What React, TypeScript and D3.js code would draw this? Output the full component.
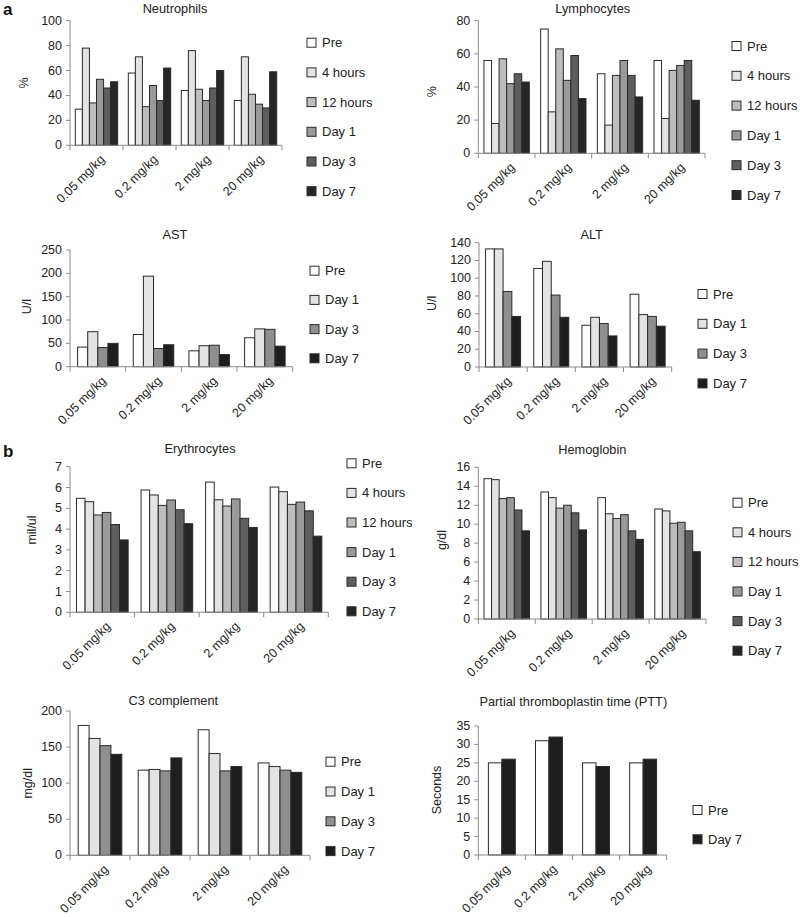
import React from 'react';
import * as d3 from 'd3';

const doses = ['0.05 mg/kg', '0.2 mg/kg', '2 mg/kg', '20 mg/kg'];
const seriesSix = ['Pre', '4 hours', '12 hours', 'Day 1', 'Day 3', 'Day 7'];
const seriesFour = ['Pre', 'Day 1', 'Day 3', 'Day 7'];
const seriesTwo = ['Pre', 'Day 7'];

const colorsSix = ['#ffffff', '#e3e3e3', '#bdbdbd', '#9a9a9a', '#5e5e5e', '#262626'];
const colorsFour = ['#ffffff', '#e3e3e3', '#8f8f8f', '#1e1e1e'];
const colorsTwo = ['#ffffff', '#1e1e1e'];

// values per dose group (rows), per series (columns)
const neutrophils = [
  [29, 78, 34, 53, 46, 51],
  [58, 71, 31, 48, 36, 62],
  [44, 76, 45, 36, 46, 60],
  [36, 71, 41, 33, 30, 59],
];
const lymphocytes = [
  [56, 18, 57, 42, 48, 43],
  [75, 25, 63, 44, 59, 33],
  [48, 17, 47, 56, 47, 34],
  [56, 21, 50, 53, 56, 32],
];
const ast = [
  [42, 75, 41, 50],
  [69, 194, 39, 47],
  [34, 45, 46, 26],
  [62, 81, 80, 44],
];
const alt = [
  [133, 133, 85, 57],
  [111, 119, 81, 56],
  [47, 56, 49, 35],
  [82, 59, 57, 46],
];
const erythrocytes = [
  [5.48, 5.32, 4.68, 4.8, 4.22, 3.48],
  [5.88, 5.64, 5.14, 5.4, 4.93, 4.26],
  [6.26, 5.41, 5.11, 5.45, 4.52, 4.08],
  [6.02, 5.8, 5.19, 5.3, 4.88, 3.66],
];
const hemoglobin = [
  [14.8, 14.7, 12.7, 12.8, 11.5, 9.3],
  [13.4, 12.8, 11.7, 12.0, 11.2, 9.4],
  [12.8, 11.1, 10.6, 11.0, 9.3, 8.4],
  [11.6, 11.4, 10.1, 10.2, 9.3, 7.1],
];
const c3 = [
  [180, 162, 152, 140],
  [118, 119, 117, 135],
  [174, 141, 117, 123],
  [128, 123, 118, 115],
];
const ptt = [
  [25, 26],
  [31, 32],
  [25, 24],
  [25, 26],
];

const FONT = '"Liberation Sans", Arial, Helvetica, sans-serif';

type PanelProps = {
  title: string;
  yLabel: string;
  series: string[];
  colors: string[];
  values: number[][];
  yMax: number;
  yStep: number;
  x0: number;
  x1: number;
  yTop: number;
  yBot: number;
  titleX: number;
  titleY: number;
  ylabX: number;
  ylabY: number;
  legX: number;
  legY0: number;
  legStep: number;
};

function Panel(p: PanelProps) {
  const y = d3.scaleLinear().domain([0, p.yMax]).range([p.yBot, p.yTop]);
  const gx = d3.scaleBand<string>().domain(doses).range([p.x0, p.x1]).paddingInner(0).paddingOuter(0);
  const bx = d3
    .scaleBand<string>()
    .domain(p.series)
    .range([0, gx.bandwidth()])
    .paddingInner(0)
    .paddingOuter(0.75);
  const ticks = d3.range(0, p.yMax + p.yStep / 2, p.yStep);
  const boundaries = doses.map((d) => gx(d) as number).concat([p.x1]);
  const axisColor = '#8c8c8c';
  return (
    <g>
      <text x={p.titleX} y={p.titleY} textAnchor="middle" fontSize={12.8} fill="#222">
        {p.title}
      </text>
      <text
        transform={`translate(${p.ylabX},${p.ylabY}) rotate(-90)`}
        textAnchor="middle"
        dominantBaseline="central"
        fontSize={12.5}
        fill="#222"
      >
        {p.yLabel}
      </text>
      {/* bars */}
      {p.values.map((row, gi) =>
        row.map((v, si) => {
          const x = (gx(doses[gi]) as number) + (bx(p.series[si]) as number);
          return (
            <rect
              key={`${gi}-${si}`}
              x={x}
              y={y(v)}
              width={bx.bandwidth()}
              height={p.yBot - y(v)}
              fill={p.colors[si]}
              stroke="#2a2a2a"
              strokeWidth={1}
            />
          );
        })
      )}
      {/* y axis */}
      <line x1={p.x0} x2={p.x0} y1={p.yTop} y2={p.yBot} stroke={axisColor} strokeWidth={1} />
      {ticks.map((t) => (
        <g key={t}>
          <line x1={p.x0 - 4} x2={p.x0} y1={y(t)} y2={y(t)} stroke={axisColor} />
          <text x={p.x0 - 8} y={y(t)} textAnchor="end" dominantBaseline="central" fontSize={12.5} fill="#222">
            {t}
          </text>
        </g>
      ))}
      {/* x axis */}
      <line x1={p.x0} x2={p.x1} y1={p.yBot} y2={p.yBot} stroke={axisColor} strokeWidth={1} />
      {boundaries.map((b, i) => (
        <line key={i} x1={b} x2={b} y1={p.yBot} y2={p.yBot + 5} stroke={axisColor} />
      ))}
      {doses.map((d) => {
        const cx = (gx(d) as number) + gx.bandwidth() / 2;
        return (
          <text
            key={d}
            transform={`translate(${cx + 6},${p.yBot + 12}) rotate(-45)`}
            textAnchor="end"
            dominantBaseline="central"
            fontSize={12.5}
            fill="#222"
          >
            {d}
          </text>
        );
      })}
      {/* legend */}
      {p.series.map((s, i) => {
        const ly = p.legY0 + i * p.legStep;
        return (
          <g key={s}>
            <rect x={p.legX} y={ly - 4.5} width={9} height={9} fill={p.colors[i]} stroke="#2a2a2a" strokeWidth={1} />
            <text x={p.legX + 15} y={ly} dominantBaseline="central" fontSize={13} fill="#222">
              {s}
            </text>
          </g>
        );
      })}
    </g>
  );
}

const panels: PanelProps[] = [
  {
    title: 'Neutrophils', yLabel: '%', series: seriesSix, colors: colorsSix, values: neutrophils,
    yMax: 100, yStep: 20, x0: 70, x1: 282, yTop: 20.7, yBot: 145.3,
    titleX: 175, titleY: 13, ylabX: 24, ylabY: 83, legX: 307, legY0: 42.7, legStep: 29.7,
  },
  {
    title: 'Lymphocytes', yLabel: '%', series: seriesSix, colors: colorsSix, values: lymphocytes,
    yMax: 80, yStep: 20, x0: 478.3, x1: 705, yTop: 20.7, yBot: 153.3,
    titleX: 592.7, titleY: 13, ylabX: 431.7, ylabY: 91.7, legX: 732, legY0: 46, legStep: 29.8,
  },
  {
    title: 'AST', yLabel: 'U/l', series: seriesFour, colors: colorsFour, values: ast,
    yMax: 250, yStep: 50, x0: 70, x1: 292.7, yTop: 250, yBot: 366.7,
    titleX: 175, titleY: 239, ylabX: 26.7, ylabY: 306.7, legX: 310, legY0: 270.7, legStep: 29.2,
  },
  {
    title: 'ALT', yLabel: 'U/l', series: seriesFour, colors: colorsFour, values: alt,
    yMax: 140, yStep: 20, x0: 479, x1: 671.7, yTop: 242.7, yBot: 367,
    titleX: 591.7, titleY: 239, ylabX: 431.7, ylabY: 303.3, legX: 698, legY0: 294, legStep: 29.8,
  },
  {
    title: 'Erythrocytes', yLabel: 'mil/ul', series: seriesSix, colors: colorsSix, values: erythrocytes,
    yMax: 7, yStep: 1, x0: 70, x1: 328.3, yTop: 466.7, yBot: 612.3,
    titleX: 200, titleY: 453.3, ylabX: 31.7, ylabY: 530, legX: 347, legY0: 463.3, legStep: 29.6,
  },
  {
    title: 'Hemoglobin', yLabel: 'g/dl', series: seriesSix, colors: colorsSix, values: hemoglobin,
    yMax: 16, yStep: 2, x0: 478.3, x1: 706, yTop: 467.3, yBot: 619,
    titleX: 592.3, titleY: 454, ylabX: 441.7, ylabY: 540, legX: 733, legY0: 502.7, legStep: 29.6,
  },
  {
    title: 'C3 complement', yLabel: 'mg/dl', series: seriesFour, colors: colorsFour, values: c3,
    yMax: 200, yStep: 50, x0: 70, x1: 310, yTop: 711, yBot: 855.3,
    titleX: 173.3, titleY: 705, ylabX: 28.3, ylabY: 783.3, legX: 326, legY0: 761.7, legStep: 29.8,
  },
  {
    title: 'Partial thromboplastin time (PTT)', yLabel: 'Seconds', series: seriesTwo, colors: colorsTwo, values: ptt,
    yMax: 35, yStep: 5, x0: 478.3, x1: 666.7, yTop: 726, yBot: 855,
    titleX: 573.3, titleY: 706, ylabX: 436.7, ylabY: 790, legX: 693, legY0: 810, legStep: 29.3,
  },
];

export default function App() {
  return (
    <svg
      width={800}
      height={917}
      viewBox="0 0 800 917"
      style={{ position: 'absolute', left: 0, top: 0, background: '#fff', fontFamily: FONT }}
    >
      <rect x={0} y={0} width={800} height={917} fill="#fff" />
      <text x={3} y={15} fontSize={17} fontWeight="bold" fill="#111">a</text>
      <text x={3} y={456.7} fontSize={17} fontWeight="bold" fill="#111">b</text>
      {panels.map((p) => (
        <Panel key={p.title} {...p} />
      ))}
    </svg>
  );
}
